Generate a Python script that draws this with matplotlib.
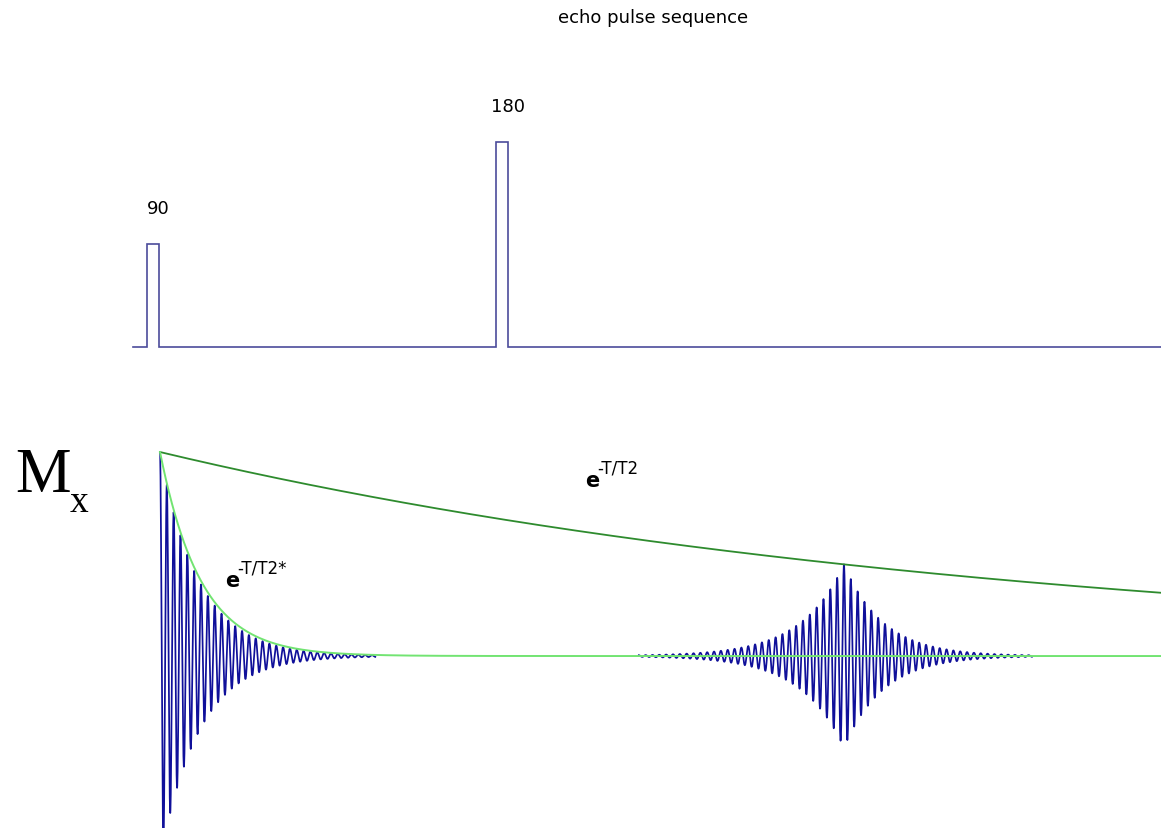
import numpy as np
import matplotlib
matplotlib.use("Agg")
import matplotlib.pyplot as plt

# --- sequence timing (ms) ---
pulse_labels = ["90", "180"]
pulse_starts = [-0.75, 19.65]
pulse_widths = [0.70, 0.70]
pulse_heights = [1.0, 2.0]
seq_start = -1.6

# --- relaxation / signal parameters ---
T2 = 50.0          # ms
T2_star = 2.4      # ms
freq = 2.5         # cycles per ms
echo_time = 40.0   # ms
fid_window = [0.0, 12.6]
echo_window = [28.0, 51.0]

x_min, x_max = -9.357, 58.54

fig = plt.figure(figsize=(11.61, 8.29), dpi=100)
fig.patch.set_facecolor("white")

ax_top = fig.add_axes([0.0, 0.5175, 1.0, 0.4343])
ax_bot = fig.add_axes([0.0, 0.0, 1.0, 0.5175])
for ax in (ax_top, ax_bot):
    ax.set_xlim(x_min, x_max)
    ax.set_axis_off()
ax_top.set_ylim(-0.5073, 3.005)
ax_bot.set_ylim(-0.843, 1.26)

# --- RF pulse train as a step line ---
px = [seq_start]
py = [0.0]
for s, w, h in zip(pulse_starts, pulse_widths, pulse_heights):
    px += [s, s, s + w, s + w]
    py += [0.0, h, h, 0.0]
px.append(x_max)
py.append(0.0)
ax_top.plot(px, py, color="#4b4b9b", lw=1.2, solid_joinstyle="miter")

for lab, s, w, h in zip(pulse_labels, pulse_starts, pulse_widths, pulse_heights):
    ax_top.annotate(lab, xy=(s + w / 2, h), xytext=(4, 26),
                    textcoords="offset points", ha="center", va="center",
                    fontsize=13, family="DejaVu Sans", color="black")

fig.text(653 / 1161, 1 - 18 / 829, "echo pulse sequence", ha="center",
         va="center", fontsize=13, family="DejaVu Sans", color="black")

# --- transverse magnetisation: FID and spin echo ---
t_fid = np.arange(fid_window[0], fid_window[1], 0.01)
m_fid = np.exp(-t_fid / T2) * np.exp(-t_fid / T2_star) * np.cos(2 * np.pi * freq * t_fid)
t_echo = np.arange(echo_window[0], echo_window[1], 0.01)
m_echo = (np.exp(-t_echo / T2) * np.exp(-np.abs(t_echo - echo_time) / T2_star)
          * np.cos(2 * np.pi * freq * (t_echo - echo_time)))
ax_bot.plot(t_fid, m_fid, color="#10109a", lw=1.25, zorder=2)
ax_bot.plot(t_echo, m_echo, color="#10109a", lw=1.25, zorder=2)

# envelopes
t_env = np.linspace(0, x_max, 3000)
ax_bot.plot(t_env, np.exp(-t_env / T2), color="#2e8b2e", lw=1.3, zorder=3)
ax_bot.plot(t_env, np.exp(-t_env / T2_star), color="#72e472", lw=1.4, zorder=3)

# envelope labels
for (lx, ly), sup in [((24.85, 0.833), "-T/T2"), ((3.8, 0.343), "-T/T2*")]:
    ax_bot.text(lx, ly, "e", fontsize=15, fontweight="bold", family="DejaVu Sans",
                ha="left", va="baseline")
    ax_bot.annotate(sup, xy=(lx, ly), xytext=(8.6, 10), textcoords="offset points",
                    fontsize=12, family="DejaVu Sans", ha="left", va="baseline")

# axis label
fig.text(15 / 1161, 1 - 492 / 829, "M", fontsize=45, family="Liberation Serif",
         ha="left", va="baseline")
fig.text(70 / 1161, 1 - 512 / 829, "x", fontsize=27, family="Liberation Serif",
         ha="left", va="baseline")

fig.savefig("out.png", dpi=100, facecolor="white")
